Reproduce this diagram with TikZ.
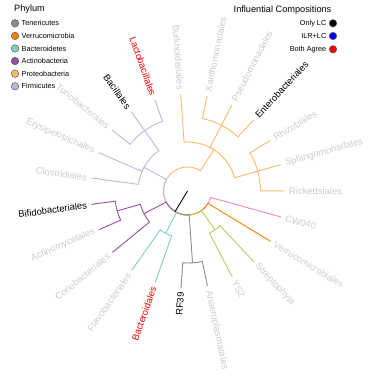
\documentclass[tikz,border=0pt]{standalone}
\usepackage{fontspec}
\setmainfont{Liberation Sans}
\usetikzlibrary{positioning}
\definecolor{firmcol}{RGB}{188,184,220}
\definecolor{protcol}{RGB}{253,185,105}
\definecolor{verrcol}{RGB}{255,127,0}
\definecolor{bactcol}{RGB}{128,206,193}
\definecolor{actncol}{RGB}{152,78,163}
\definecolor{tenecol}{RGB}{140,140,140}
\definecolor{cyancol}{RGB}{170,214,90}
\definecolor{cwcol}{RGB}{245,135,195}
\definecolor{tipgrey}{RGB}{204,204,204}
\definecolor{bothred}{RGB}{255,0,0}
\definecolor{ilrblue}{RGB}{0,0,255}
\tikzset{
  branch/.style={line width=0.9pt},
  tipR/.style={font=\fontsize{9.4}{11}\selectfont, inner sep=0pt, anchor=west, text=tipgrey},
  tipL/.style={font=\fontsize{9.4}{11}\selectfont, inner sep=0pt, anchor=east, text=tipgrey},
  legdot/.style={circle, draw=black!65, line width=0.5pt, minimum size=7.5pt, inner sep=0pt},
  legtext/.style={font=\fontsize{7.3}{9}\selectfont, inner sep=0pt},
  legtitle/.style={font=\fontsize{9.2}{11}\selectfont, inner sep=0pt},
}

\begin{document}
\begin{tikzpicture}[x=1pt, y=1pt]
  \useasboundingbox (0,0) rectangle (374,378);

  % legend: phylum
  \node[legtitle, anchor=west] (phyTitle) at (14,369) {Phylum};
  \node[legdot, fill=tenecol] (kTen) at (15,354.7) {};
  \node[legtext, right=2.5pt of kTen] (kTenTxt) {Tenericutes};
  \node[legdot, fill=verrcol] (kVer) at (15,342.1) {};
  \node[legtext, right=2.5pt of kVer] (kVerTxt) {Verrucomicrobia};
  \node[legdot, fill=bactcol] (kBac) at (15,329.5) {};
  \node[legtext, right=2.5pt of kBac] (kBacTxt) {Bacteroidetes};
  \node[legdot, fill=actncol] (kAct) at (15,316.9) {};
  \node[legtext, right=2.5pt of kAct] (kActTxt) {Actinobacteria};
  \node[legdot, fill=protcol] (kPro) at (15,304.3) {};
  \node[legtext, right=2.5pt of kPro] (kProTxt) {Proteobacteria};
  \node[legdot, fill=firmcol] (kFir) at (15,291.7) {};
  \node[legtext, right=2.5pt of kFir] (kFirTxt) {Firmicutes};

  % legend: influential compositions
  \node[legtitle, anchor=west] (infTitle) at (233.5,368) {Influential Compositions};
  \node[legdot, fill=black] (kOnly) at (333,354.7) {};
  \node[legtext, left=2.5pt of kOnly] (kOnlyTxt) {Only LC};
  \node[legdot, fill=ilrblue] (kIlr) at (333,342) {};
  \node[legtext, left=2.5pt of kIlr] (kIlrTxt) {ILR+LC};
  \node[legdot, fill=bothred] (kBoth) at (333,328.7) {};
  \node[legtext, left=2.5pt of kBoth] (kBothTxt) {Both Agree};

  \begin{scope}[shift={(187.5,187)}]
    % inner nodes
    \coordinate (nRoot) at (0,0);
    \coordinate (nN1) at (238.96:24pt);
    \coordinate (nP) at (57.48:49pt);
    \coordinate (nXPE) at (62.7:74pt);
    \coordinate (nRSR) at (15.75:73pt);
    \coordinate (nF) at (151.43:49.5pt);
    \coordinate (nF1) at (125.35:74pt);
    \coordinate (nA) at (207.5:49pt);
    \coordinate (nAB) at (195.78:73pt);
    \coordinate (nB) at (242.7:47.5pt);
    \coordinate (nT) at (274:72pt);
    \coordinate (nG) at (305.3:47.5pt);

    % tips
    \coordinate (tBur) at (94:97pt);
    \coordinate (tXan) at (78.35:97pt);
    \coordinate (tPse) at (62.7:97pt);
    \coordinate (tEnt) at (47.05:97pt);
    \coordinate (tRhi) at (31.4:97pt);
    \coordinate (tSph) at (15.75:97pt);
    \coordinate (tRic) at (0.1:97pt);
    \coordinate (tCW) at (344.45:97pt);
    \coordinate (tVer) at (328.8:97pt);
    \coordinate (tStr) at (313.15:97pt);
    \coordinate (tYS) at (297.5:97pt);
    \coordinate (tAna) at (281.85:97pt);
    \coordinate (tRF) at (266.2:97pt);
    \coordinate (tBac) at (250.55:97pt);
    \coordinate (tFla) at (234.9:97pt);
    \coordinate (tCor) at (219.25:97pt);
    \coordinate (tAct) at (203.6:97pt);
    \coordinate (tBif) at (187.95:97pt);
    \coordinate (tClo) at (172.3:97pt);
    \coordinate (tEry) at (156.65:97pt);
    \coordinate (tTur) at (141:97pt);
    \coordinate (tBcl) at (125.35:97pt);
    \coordinate (tLac) at (109.7:97pt);

    % Proteobacteria
    \draw[branch, protcol] (nN1) arc[start angle=238.96, end angle=57.48, radius=24pt] -- (nP);
    \draw[branch, protcol] (nP) arc[start angle=57.48, end angle=94, radius=49pt] -- (tBur);
    \draw[branch, protcol] (nP) arc[start angle=57.48, end angle=62.7, radius=49pt] -- (nXPE);
    \draw[branch, protcol] (nP) arc[start angle=57.48, end angle=15.75, radius=49pt] -- (nRSR);
    \draw[branch, protcol] (nXPE) arc[start angle=62.7, end angle=78.35, radius=74pt] -- (tXan);
    \draw[branch, protcol] (nXPE) -- (tPse);
    \draw[branch, protcol] (nXPE) arc[start angle=62.7, end angle=47.05, radius=74pt] -- (tEnt);
    \draw[branch, protcol] (nRSR) arc[start angle=15.75, end angle=31.4, radius=73pt] -- (tRhi);
    \draw[branch, protcol] (nRSR) -- (tSph);
    \draw[branch, protcol] (nRSR) arc[start angle=15.75, end angle=0.1, radius=73pt] -- (tRic);

    % Firmicutes
    \draw[branch, firmcol] (nN1) arc[start angle=238.96, end angle=151.43, radius=24pt] -- (nF);
    \draw[branch, firmcol] (nF) arc[start angle=151.43, end angle=125.35, radius=49.5pt] -- (nF1);
    \draw[branch, firmcol] (nF) arc[start angle=151.43, end angle=156.65, radius=49.5pt] -- (tEry);
    \draw[branch, firmcol] (nF) arc[start angle=151.43, end angle=172.3, radius=49.5pt] -- (tClo);
    \draw[branch, firmcol] (nF1) arc[start angle=125.35, end angle=141, radius=74pt] -- (tTur);
    \draw[branch, firmcol] (nF1) -- (tBcl);
    \draw[branch, firmcol] (nF1) arc[start angle=125.35, end angle=109.7, radius=74pt] -- (tLac);

    % Actinobacteria
    \draw[branch, actncol] (nN1) arc[start angle=238.96, end angle=207.5, radius=24pt] -- (nA);
    \draw[branch, actncol] (nA) arc[start angle=207.5, end angle=195.78, radius=49pt] -- (nAB);
    \draw[branch, actncol] (nA) arc[start angle=207.5, end angle=219.25, radius=49pt] -- (tCor);
    \draw[branch, actncol] (nAB) arc[start angle=195.78, end angle=203.6, radius=73pt] -- (tAct);
    \draw[branch, actncol] (nAB) arc[start angle=195.78, end angle=187.95, radius=73pt] -- (tBif);

    % CW040, Verrucomicrobia, Streptophyta / YS2
    \draw[branch, cwcol] (nN1) arc[start angle=238.96, end angle=344.45, radius=24pt] -- (tCW);
    \draw[branch, verrcol] (nN1) arc[start angle=238.96, end angle=328.8, radius=24pt] -- (tVer);
    \draw[branch, cyancol] (nN1) arc[start angle=238.96, end angle=305.3, radius=24pt] -- (nG);
    \draw[branch, cyancol] (nG) arc[start angle=305.3, end angle=297.5, radius=47.5pt] -- (tYS);
    \draw[branch, cyancol] (nG) arc[start angle=305.3, end angle=313.15, radius=47.5pt] -- (tStr);

    % Tenericutes
    \draw[branch, tenecol] (nN1) arc[start angle=238.96, end angle=274, radius=24pt] -- (nT);
    \draw[branch, tenecol] (nT) arc[start angle=274, end angle=266.2, radius=72pt] -- (tRF);
    \draw[branch, tenecol] (nT) arc[start angle=274, end angle=281.85, radius=72pt] -- (tAna);

    % Bacteroidetes
    \draw[branch, bactcol] (nN1) arc[start angle=238.96, end angle=242.7, radius=24pt] -- (nB);
    \draw[branch, bactcol] (nB) arc[start angle=242.7, end angle=234.9, radius=47.5pt] -- (tFla);
    \draw[branch, bactcol] (nB) arc[start angle=242.7, end angle=250.55, radius=47.5pt] -- (tBac);

    % root edge
    \draw[branch, black] (nRoot) -- (nN1);

    % tip labels
    \node[tipL, rotate=-86] (lBur) at (94:101.5pt) {Burkholderiales};
    \node[tipR, rotate=78.35] (lXan) at (78.35:101.5pt) {Xanthomonadales};
    \node[tipR, rotate=62.7] (lPse) at (62.7:101.5pt) {Pseudomonadales};
    \node[tipR, rotate=47.05, text=black] (lEnt) at (47.05:101.5pt) {Enterobacteriales};
    \node[tipR, rotate=31.4] (lRhi) at (31.4:101.5pt) {Rhizobiales};
    \node[tipR, rotate=15.75] (lSph) at (15.75:101.5pt) {Sphingomonadales};
    \node[tipR, rotate=0.1] (lRic) at (0.1:101.5pt) {Rickettsiales};
    \node[tipR, rotate=-15.55] (lCW) at (344.45:101.5pt) {CW040};
    \node[tipR, rotate=-31.2] (lVer) at (328.8:101.5pt) {Verrucomicrobiales};
    \node[tipR, rotate=-46.85] (lStr) at (313.15:101.5pt) {Streptophyta};
    \node[tipR, rotate=-62.5] (lYS) at (297.5:101.5pt) {YS2};
    \node[tipR, rotate=-78.15] (lAna) at (281.85:101.5pt) {Anaeroplasmatales};
    \node[tipL, rotate=86.2, text=black] (lRF) at (266.2:101.5pt) {RF39};
    \node[tipL, rotate=70.55, text=bothred] (lBac) at (250.55:101.5pt) {Bacteroidales};
    \node[tipL, rotate=54.9] (lFla) at (234.9:101.5pt) {Flavobacteriales};
    \node[tipL, rotate=39.25] (lCor) at (219.25:101.5pt) {Coriobacteriales};
    \node[tipL, rotate=23.6] (lAct) at (203.6:101.5pt) {Actinomycetales};
    \node[tipL, rotate=7.95, text=black] (lBif) at (187.95:101.5pt) {Bifidobacteriales};
    \node[tipL, rotate=-7.7] (lClo) at (172.3:101.5pt) {Clostridiales};
    \node[tipL, rotate=-23.35] (lEry) at (156.65:101.5pt) {Erysipelotrichales};
    \node[tipL, rotate=-39] (lTur) at (141:101.5pt) {Turicibacterales};
    \node[tipL, rotate=-54.65, text=black] (lBcl) at (125.35:101.5pt) {Bacillales};
    \node[tipL, rotate=-70.3, text=bothred] (lLac) at (109.7:101.5pt) {Lactobacillales};
  \end{scope}
\end{tikzpicture}
\end{document}
